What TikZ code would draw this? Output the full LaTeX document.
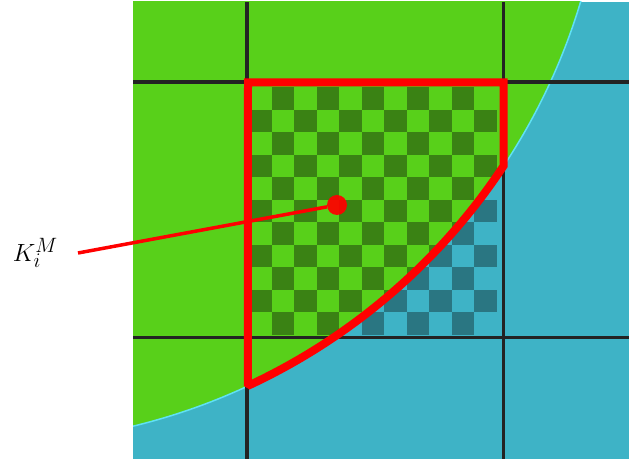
\documentclass[tikz,border=0pt]{standalone}
\usetikzlibrary{positioning}
\definecolor{FieldGreen}{RGB}{88,208,26}
\definecolor{FieldGreenDark}{RGB}{58,130,20}
\definecolor{FieldBlue}{RGB}{62,179,198}
\definecolor{FieldBlueDark}{RGB}{42,118,130}
\definecolor{EdgeCyan}{RGB}{95,225,245}
\definecolor{GridBlack}{RGB}{35,35,35}
\newcommand{\checkercells}[1]{%
  \foreach \i in {0,...,10}{\foreach \j in {0,...,10}{%
    \pgfmathtruncatemacro\isodd{mod(\i+\j,2)}%
    \ifnum\isodd=1 \fill[#1] (249+22.5*\i,375.5-22.5*\j) rectangle ++(22.5,-22.5);\fi}}}
\begin{document}
\begin{tikzpicture}[x=1pt,y=1pt,
    grid/.style={draw=GridBlack,line width=3.5pt},
    cellborder/.style={draw=red,line width=8pt,miter limit=1.5},
    pointer/.style={draw=red,line width=3.5pt},
    marker/.style={circle,fill=red,fill opacity=0.93,minimum size=20pt,inner sep=0pt},
    tag/.style={font=\fontsize{32}{36}\selectfont,inner xsep=20pt,inner ysep=2pt}
  ]
  \useasboundingbox (0,0) rectangle (629,463);
  \coordinate (centre) at (-13,639);
  \fill[FieldBlue] (133,4) rectangle (629,461);
  \begin{scope}
    \clip (133,4) rectangle (629,461);
    \fill[FieldGreen] (centre) circle[radius=619.5];
    \checkercells{FieldBlueDark}
    \begin{scope}
      \clip (centre) circle[radius=619.5];
      \checkercells{FieldGreenDark}
    \end{scope}
    \draw[EdgeCyan,line width=1.5pt] (centre) circle[radius=619.5];
    \draw[grid] (247,4) -- (247,461) (503.5,4) -- (503.5,461);
    \draw[grid] (133,381) -- (629,381) (133,125.5) -- (629,125.5);
  \end{scope}
  \draw[cellborder] (248,380.5) -- (503.5,380.5) -- ([shift={(-33.5:619.5)}]centre)
    arc[start angle=-33.5,end angle=-65.1,radius=619.5] -- cycle;
  \node[tag,anchor=east] (label) at (78,210) {$K_i^M$};
  \node[marker] (dot) at (337,258) {};
  \draw[pointer] (label.east) -- (dot);
\end{tikzpicture}
\end{document}
